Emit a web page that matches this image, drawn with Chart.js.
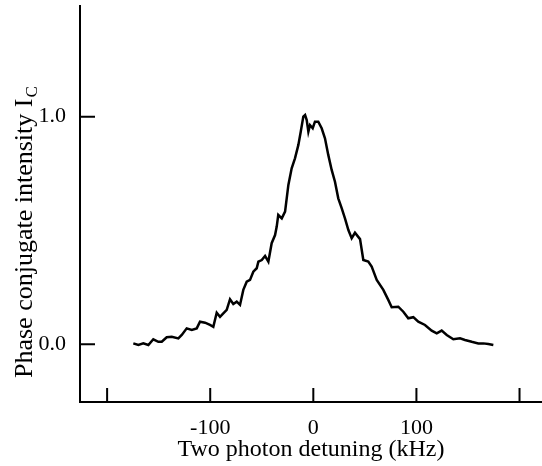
<!DOCTYPE html>
<html>
<head>
<meta charset="utf-8">
<script src="https://cdn.jsdelivr.net/npm/chart.js@4.4.1/dist/chart.umd.min.js"></script>
<style>
  html, body { margin: 0; padding: 0; background: #fff; }
  .wrap { width: 542px; height: 466px; }
</style>
</head>
<body>
<div class="wrap"><canvas id="chart"></canvas></div>
<script>
// detuning (kHz) and normalised phase conjugate intensity
const detuning = [
  -174.6, -169.7, -164.9, -160.0, -155.2, -150.3, -147.0, -142.2, -137.3, -130.9,
  -127.6, -122.8, -117.9, -113.1, -109.9, -105.0, -100.2, -97.0, -93.7, -90.5,
  -87.3, -84.0, -80.8, -77.6, -74.3, -71.1, -67.9, -64.6, -61.4, -58.2,
  -54.9, -53.3, -50.0, -46.8, -43.6, -40.4, -37.1, -35.5, -34.0, -30.6,
  -27.4, -24.2, -21.0, -17.8, -14.5, -12.2, -9.7, -8.0, -6.4, -4.8,
  -3.2, -0.6, 1.6, 4.8, 8.1, 11.3, 14.5, 17.8, 21.0, 24.2,
  27.5, 30.7, 34.0, 37.2, 40.4, 45.3, 48.5, 53.3, 56.6, 61.5,
  67.9, 72.7, 76.0, 82.4, 87.3, 92.1, 97.0, 101.8, 108.3, 114.8,
  119.7, 124.5, 129.4, 135.8, 142.3, 147.1, 153.6, 160.0, 164.9, 169.7,
  174.6
];
const intensity = [
  0.004, -0.003, 0.004, -0.003, 0.022, 0.011, 0.011, 0.031, 0.033, 0.026,
  0.041, 0.070, 0.063, 0.070, 0.099, 0.095, 0.085, 0.077, 0.139, 0.121,
  0.136, 0.151, 0.198, 0.177, 0.187, 0.173, 0.239, 0.275, 0.283, 0.319,
  0.334, 0.363, 0.370, 0.388, 0.363, 0.444, 0.480, 0.517, 0.568, 0.553,
  0.583, 0.700, 0.773, 0.817, 0.876, 0.934, 1.000, 1.007, 0.985, 0.934,
  0.963, 0.949, 0.978, 0.978, 0.949, 0.905, 0.832, 0.766, 0.714, 0.641,
  0.598, 0.553, 0.502, 0.466, 0.490, 0.462, 0.370, 0.363, 0.341, 0.283,
  0.239, 0.195, 0.163, 0.165, 0.143, 0.114, 0.119, 0.099, 0.085, 0.060,
  0.048, 0.060, 0.041, 0.022, 0.026, 0.019, 0.011, 0.004, 0.004, 0.001,
  -0.003
];

const xTicks = [-200, -100, 0, 100, 200];
const xTickLabels = ["", "-100", "0", "100", ""];
const yTicks = [0, 1];
const yTickLabels = ["0.0", "1.0"];

const serif = "'Liberation Serif', 'Times New Roman', serif";

// ticks in the original point into the plot, so they are drawn here
const innerTicks = {
  id: "innerTicks",
  afterDraw(chart) {
    const { ctx, chartArea, scales: { x, y } } = chart;
    ctx.save();
    ctx.strokeStyle = "#000";
    ctx.lineWidth = 2;
    ctx.beginPath();
    xTicks.forEach(v => {
      const px = x.getPixelForValue(v);
      ctx.moveTo(px, chartArea.bottom);
      ctx.lineTo(px, chartArea.bottom - 14);
    });
    yTicks.forEach(v => {
      const py = y.getPixelForValue(v);
      ctx.moveTo(chartArea.left, py);
      ctx.lineTo(chartArea.left + 15, py);
    });
    ctx.stroke();

    // y title with subscript C
    const main = "Phase conjugate intensity I";
    ctx.translate(32, 378);
    ctx.rotate(-Math.PI / 2);
    ctx.fillStyle = "#000";
    ctx.textAlign = "left";
    ctx.textBaseline = "alphabetic";
    ctx.font = "26px " + serif;
    ctx.fillText(main, 0, 0);
    const w = ctx.measureText(main).width;
    ctx.font = "17px " + serif;
    ctx.fillText("C", w + 1, 5);
    ctx.restore();
  }
};

new Chart(document.getElementById("chart"), {
  type: "line",
  data: {
    datasets: [
      {
        data: detuning.map((d, i) => ({ x: d, y: intensity[i] })),
        borderColor: "#000",
        borderWidth: 2.5,
        pointRadius: 0,
        tension: 0,
        fill: false,
      },
    ],
  },
  options: {
    responsive: true,
    maintainAspectRatio: false,
    animation: false,
    layout: { padding: { top: 6, right: 0, left: 0, bottom: 0 } },
    plugins: {
      legend: { display: false },
      tooltip: { enabled: false },
    },
    scales: {
      x: {
        type: "linear",
        min: -226.3,
        max: 221.8,
        afterBuildTicks: s => { s.ticks = xTicks.map(v => ({ value: v })); },
        afterFit: s => {
          s.height = 64;
          s.paddingLeft = 0;
          s.paddingRight = 0;
        },
        grid: { display: false },
        border: { display: true, color: "#000", width: 2 },
        ticks: {
          color: "#000",
          padding: 5,
          maxRotation: 0,
          font: { family: serif, size: 22 },
          callback: (v, i) => xTickLabels[i],
        },
        title: {
          display: true,
          text: "Two photon detuning (kHz)",
          color: "#000",
          font: { family: serif, size: 24 },
          padding: { top: 0, bottom: 2 },
        },
      },
      y: {
        min: -0.2535,
        max: 1.486,
        afterBuildTicks: s => { s.ticks = yTicks.map(v => ({ value: v })); },
        afterFit: s => {
          s.width = 80;
          s.paddingTop = 0;
          s.paddingBottom = 0;
        },
        grid: { display: false },
        border: { display: true, color: "#000", width: 2 },
        ticks: {
          color: "#000",
          padding: 6,
          font: { family: serif, size: 22 },
          callback: (v, i) => yTickLabels[i],
        },
      },
    },
  },
  plugins: [innerTicks],
});
</script>
</body>
</html>
